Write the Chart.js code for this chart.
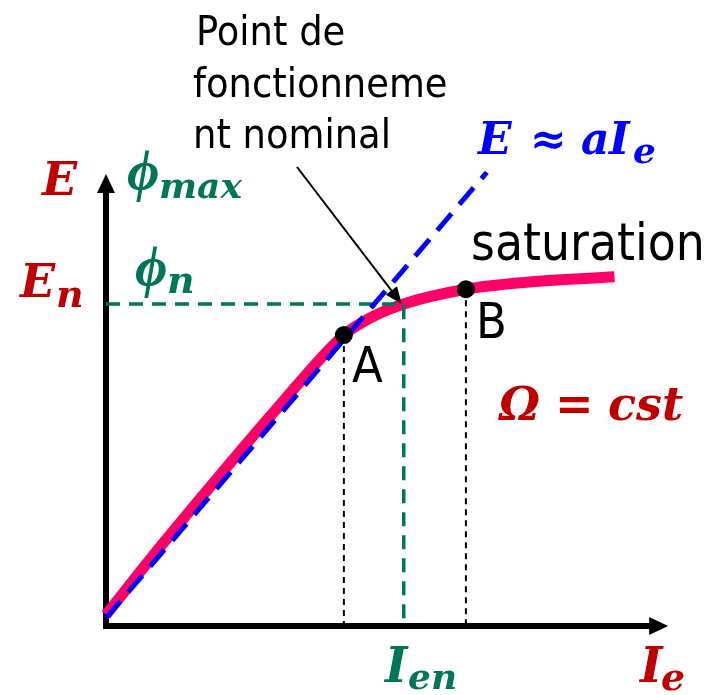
<!DOCTYPE html>
<html lang="fr">
<head>
<meta charset="utf-8">
<title>Caractéristique à vide</title>
<script src="https://cdn.jsdelivr.net/npm/chart.js@4/dist/chart.umd.min.js"></script>
<style>
  html, body { margin: 0; padding: 0; background: #fff; }
  canvas { display: block; }
</style>
</head>
<body>
<canvas id="courbe" width="720" height="695"></canvas>
<script>
// caractéristique à vide E(Ie) à vitesse constante
const courantIe = [0, 1, 2, 3, 4.21, 4.67, 5.27, 6.37, 7.4, 9.0];
const femE = [0.2, 1.45, 2.65, 3.82, 5.15, 5.45, 5.7, 5.96, 6.08, 6.18];

// droite E ≈ a·Ie (zone linéaire)
const droiteIe = [0, 6.74];
const droiteE = [0.14, 8.03];

// points A et B
const pointsIe = [4.21, 6.37];
const pointsE = [5.15, 5.96];

// point de fonctionnement nominal
const IeNominal = 5.27;
const EnNominal = 5.7;

// longueur des axes
const axeIeMax = 9.95;
const axeEMax = 8;

const rouge = '#C00000';
const vert = 'rgb(0,118,88)';
const bleu = '#0000FF';
const rose = '#FF0066';
const serifMath = '"DejaVu Serif", "Liberation Serif", serif';
const serifPhi = '"Liberation Serif", "DejaVu Serif", serif';
const sansTexte = '"DejaVu Sans Condensed", "DejaVu Sans", sans-serif';

const versPoints = (xs, ys) => xs.map((v, i) => ({ x: v, y: ys[i] }));

// écrit une expression en morceaux : [texte, x, décalage vertical, taille, police]
function ecrireMath(ctx, morceaux, yBase, couleur) {
  ctx.fillStyle = couleur;
  ctx.textBaseline = 'alphabetic';
  ctx.textAlign = 'left';
  morceaux.forEach(([t, x, dy, taille, police]) => {
    ctx.font = `bold italic ${taille}px ${police || serifMath}`;
    ctx.fillText(t, x, yBase + dy);
  });
}

const habillage = {
  id: 'habillage',
  beforeDatasetsDraw(chart) {
    const { ctx, scales: { x, y } } = chart;
    const x0 = x.getPixelForValue(0);
    const y0 = y.getPixelForValue(0);
    const yHaut = y.getPixelForValue(axeEMax);
    const xFin = x.getPixelForValue(axeIeMax);
    ctx.save();
    ctx.strokeStyle = '#000';
    ctx.fillStyle = '#000';
    ctx.lineWidth = 6;
    ctx.beginPath();
    ctx.moveTo(x0, y0 + 3);
    ctx.lineTo(x0, yHaut + 16);
    ctx.moveTo(x0 - 3, y0);
    ctx.lineTo(xFin - 16, y0);
    ctx.stroke();
    ctx.beginPath();
    ctx.moveTo(x0, yHaut);
    ctx.lineTo(x0 - 9, yHaut + 19);
    ctx.lineTo(x0 + 9, yHaut + 19);
    ctx.closePath();
    ctx.fill();
    ctx.beginPath();
    ctx.moveTo(xFin, y0);
    ctx.lineTo(xFin - 19, y0 - 9);
    ctx.lineTo(xFin - 19, y0 + 9);
    ctx.closePath();
    ctx.fill();
    ctx.restore();
  },
  afterDraw(chart) {
    const { ctx, scales: { x, y } } = chart;
    ctx.save();

    // flèche vers le point nominal
    const xn = x.getPixelForValue(IeNominal) - 2;
    const yn = y.getPixelForValue(EnNominal);
    const xd = 297, yd = 167;
    const ang = Math.atan2(yn - yd, xn - xd);
    ctx.strokeStyle = '#000';
    ctx.fillStyle = '#000';
    ctx.lineWidth = 2;
    ctx.beginPath();
    ctx.moveTo(xd, yd);
    ctx.lineTo(xn - 14 * Math.cos(ang), yn - 14 * Math.sin(ang));
    ctx.stroke();
    ctx.beginPath();
    ctx.moveTo(xn, yn);
    ctx.lineTo(xn - 17 * Math.cos(ang) + 7 * Math.sin(ang), yn - 17 * Math.sin(ang) - 7 * Math.cos(ang));
    ctx.lineTo(xn - 17 * Math.cos(ang) - 7 * Math.sin(ang), yn - 17 * Math.sin(ang) + 7 * Math.cos(ang));
    ctx.closePath();
    ctx.fill();

    // textes
    ctx.fillStyle = '#000';
    ctx.textBaseline = 'alphabetic';
    ctx.font = `41px ${sansTexte}`;
    ctx.fillText('Point de', 196, 45);
    ctx.fillText('fonctionneme', 193, 97);
    ctx.fillText('nt nominal', 193, 148);
    ctx.font = `51px ${sansTexte}`;
    ctx.fillText('saturation', 471, 260);
    ctx.font = `50px ${sansTexte}`;
    ctx.fillText('A', 352, 382);
    ctx.fillText('B', 476, 338);

    ecrireMath(ctx, [['E', 42, 0, 46]], 195, rouge);
    ecrireMath(ctx, [['E', 20, 0, 46], ['n', 56, 10, 38]], 297, rouge);
    ecrireMath(ctx, [['ϕ', 127, 0, 56, serifPhi], ['max', 159, 8, 36]], 190, vert);
    ecrireMath(ctx, [['ϕ', 135, 0, 56, serifPhi], ['n', 167, 7, 38]], 286, vert);
    ecrireMath(ctx, [['E', 478, 0, 44], ['≈', 530, 0, 44], ['a', 581, 0, 44], ['I', 609, 0, 44], ['e', 633, 9, 36]], 154, bleu);
    ecrireMath(ctx, [['Ω', 499, 0, 46], ['=', 555, 0, 46], ['cst', 608, 0, 46]], 420, rouge);
    ecrireMath(ctx, [['I', 385, 0, 48], ['en', 408, 7, 36]], 682, vert);
    ecrireMath(ctx, [['I', 640, 0, 48], ['e', 661, 8, 38]], 682, rouge);

    ctx.restore();
  }
};

new Chart(document.getElementById('courbe'), {
  type: 'scatter',
  data: {
    datasets: [
      {
        label: 'Points A et B',
        data: versPoints(pointsIe, pointsE),
        pointRadius: 9,
        pointBackgroundColor: '#000',
        pointBorderWidth: 0,
        showLine: false,
        order: 0
      },
      {
        label: 'E ≈ aIe',
        data: versPoints(droiteIe, droiteE),
        showLine: true,
        borderColor: bleu,
        borderWidth: 5,
        borderDash: [22, 12],
        pointRadius: 0,
        order: 1
      },
      {
        label: 'Nominal',
        data: versPoints([0, IeNominal, IeNominal], [EnNominal, EnNominal, 0]),
        showLine: true,
        borderColor: vert,
        borderWidth: 3.5,
        borderDash: [14, 9],
        pointRadius: 0,
        order: 2
      },
      {
        label: 'Repère A',
        data: versPoints([pointsIe[0], pointsIe[0]], [pointsE[0], 0]),
        showLine: true,
        borderColor: '#000',
        borderWidth: 2,
        borderDash: [6, 5],
        pointRadius: 0,
        order: 3
      },
      {
        label: 'Repère B',
        data: versPoints([pointsIe[1], pointsIe[1]], [pointsE[1], 0]),
        showLine: true,
        borderColor: '#000',
        borderWidth: 2,
        borderDash: [6, 5],
        pointRadius: 0,
        order: 3
      },
      {
        label: 'E(Ie)',
        data: versPoints(courantIe, femE),
        showLine: true,
        borderColor: rose,
        borderWidth: 11,
        cubicInterpolationMode: 'monotone',
        pointRadius: 0,
        order: 4
      }
    ]
  },
  options: {
    responsive: false,
    devicePixelRatio: 1,
    animation: false,
    layout: { padding: { left: 106, right: 49, top: 117.5, bottom: 69 } },
    scales: {
      x: { type: 'linear', min: 0, max: 10, display: false },
      y: { type: 'linear', min: 0, max: 9, display: false }
    },
    plugins: {
      legend: { display: false },
      tooltip: { enabled: false }
    },
    elements: { line: { borderCapStyle: 'butt' } },
    clip: false
  },
  plugins: [habillage]
});
</script>
</body>
</html>
